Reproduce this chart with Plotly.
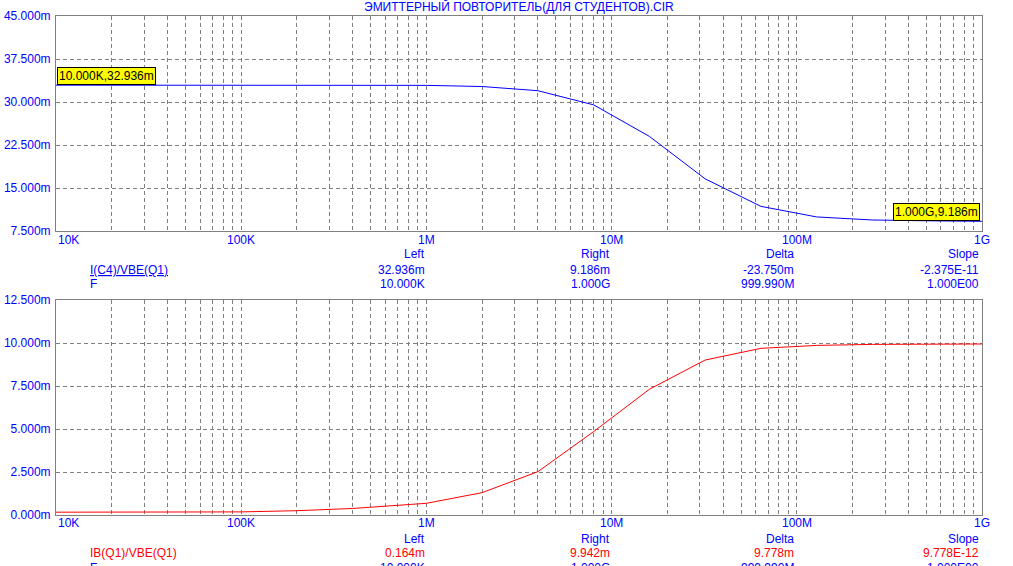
import plotly.graph_objects as go
import numpy as np

# ---------------- data ----------------
title_text = "ЭМИТТЕРНЫЙ ПОВТОРИТЕЛЬ(ДЛЯ СТУДЕНТОВ).CIR"
freq = [1e4, 1e5, 2e5, 4e5, 1e6, 2e6, 4e6, 8e6, 1.6e7, 3.2e7, 6.4e7, 1.28e8, 2.56e8, 5.12e8, 1e9]
ic4_vbe = [32.936, 32.935, 32.93, 32.92, 32.9, 32.7, 31.97, 29.5, 24.0, 16.6, 11.8, 9.95, 9.42, 9.28, 9.186]
ib_vbe = [0.164, 0.18, 0.25, 0.38, 0.68, 1.3, 2.52, 4.85, 7.31, 9.01, 9.69, 9.86, 9.92, 9.94, 9.942]

x_tick_vals = [1e4, 1e5, 1e6, 1e7, 1e8, 1e9]
x_tick_text = ["10K", "100K", "1M", "10M", "100M", "1G"]
top_y_vals = [7.5, 15.0, 22.5, 30.0, 37.5, 45.0]
top_y_text = ["7.500m", "15.000m", "22.500m", "30.000m", "37.500m", "45.000m"]
bot_y_vals = [0.0, 2.5, 5.0, 7.5, 10.0, 12.5]
bot_y_text = ["0.000m", "2.500m", "5.000m", "7.500m", "10.000m", "12.500m"]

table_headers = ["Left", "Right", "Delta", "Slope"]
top_row1_name = "I(C4)/VBE(Q1)"
top_row1 = ["32.936m", "9.186m", "-23.750m", "-2.375E-11"]
top_row2_name = "F"
top_row2 = ["10.000K", "1.000G", "999.990M", "1.000E00"]
bot_row1_name = "IB(Q1)/VBE(Q1)"
bot_row1 = ["0.164m", "9.942m", "9.778m", "9.778E-12"]
bot_row2_name = "F"
bot_row2 = ["10.000K", "1.000G", "999.990M", "1.000E00"]

cursor_top_left = "10.000K,32.936m"
cursor_top_right = "1.000G,9.186m"

# ---------------- layout helpers ----------------
W, H = 1013, 566
PX_L, PX_R = 56, 982
TOP_T, TOP_B = 16, 231
BOT_T, BOT_B = 300, 515
FONT = "Liberation Sans, Arial, sans-serif"
BLUE = "#0000FF"
RED = "#FF0000"
GRID = "#808080"


def px(x):
    return x / W


def py(y):
    return 1 - y / H


grid_vals = []
for d in range(4, 9):
    for m in range(1, 10):
        grid_vals.append(m * 10 ** d)
grid_vals.append(1e9)

fig = go.Figure()
fig.add_trace(go.Scatter(x=freq, y=ic4_vbe, mode="lines", line=dict(color="#0000FF", width=1),
                         xaxis="x", yaxis="y", showlegend=False, hoverinfo="skip"))
fig.add_trace(go.Scatter(x=freq, y=ib_vbe, mode="lines", line=dict(color=RED, width=1),
                         xaxis="x2", yaxis="y2", showlegend=False, hoverinfo="skip"))

xcommon = dict(type="log", range=[4, 9], tickvals=grid_vals, showticklabels=False,
               showgrid=True, gridcolor=GRID, griddash="4px,3px", gridwidth=1,
               showline=True, linecolor=GRID, linewidth=1, mirror=True, automargin=False,
               zeroline=False, ticks="", domain=[px(PX_L), px(PX_R)])
ycommon = dict(showgrid=True, gridcolor=GRID, griddash="4px,3px", gridwidth=1,
               showline=True, linecolor=GRID, linewidth=1, mirror=True, automargin=False,
               zeroline=False, ticks="", ticklabelstandoff=2,
               tickfont=dict(family=FONT, size=12, color=BLUE))

fig.update_layout(
    width=W, height=H, margin=dict(l=0, r=0, t=0, b=0, autoexpand=False),
    paper_bgcolor="white", plot_bgcolor="white",
    xaxis=dict(**xcommon, anchor="y"),
    yaxis=dict(**ycommon, range=[7.5, 45], tickvals=top_y_vals, ticktext=top_y_text,
               domain=[py(TOP_B), py(TOP_T)], anchor="x"),
    xaxis2=dict(**xcommon, anchor="y2"),
    yaxis2=dict(**ycommon, range=[0, 12.5], tickvals=bot_y_vals, ticktext=bot_y_text,
                domain=[py(BOT_B), py(BOT_T)], anchor="x2"),
    font=dict(family=FONT, size=12, color=BLUE),
)

ann = []


def text(x, y, s, xanchor="center", color=BLUE, underline=False):
    if underline:
        s = "<u>" + s + "</u>"
    ann.append(dict(x=px(x), y=py(y), xref="paper", yref="paper", text=s, showarrow=False,
                    xanchor=xanchor, yanchor="middle", font=dict(family=FONT, size=12, color=color)))


# title
text(519, 7, title_text)

# x tick labels (both plots)
for ylab in (240, 523):
    for i, (v, t) in enumerate(zip(x_tick_vals, x_tick_text)):
        xpix = PX_L + (np.log10(v) - 4) / 5 * (PX_R - PX_L)
        if i == 0:
            text(xpix, ylab, t, xanchor="left")
        else:
            text(xpix, ylab, t)

# tables
col_right = [427, 612, 796, 981]
for (hy, r1y, r2y, n1, v1, n2, v2, c1, ul) in [
    (254, 270, 284, top_row1_name, top_row1, top_row2_name, top_row2, BLUE, True),
    (539, 553, 568, bot_row1_name, bot_row1, bot_row2_name, bot_row2, RED, False),
]:
    for xr, h in zip(col_right, table_headers):
        text(xr, hy, h, xanchor="right")
    text(88, r1y, n1, xanchor="left", color=c1, underline=ul)
    for xr, v in zip(col_right, v1):
        text(xr, r1y, v, xanchor="right", color=c1)
    text(88, r2y, n2, xanchor="left")
    for xr, v in zip(col_right, v2):
        text(xr, r2y, v, xanchor="right")

# cursor boxes
ann.append(dict(x=4, y=ic4_vbe[0], xref="x", yref="y", text=cursor_top_left, showarrow=False,
                xanchor="left", yanchor="bottom", bgcolor="#FFFF00", bordercolor="black",
                borderwidth=1, borderpad=1, xshift=1, font=dict(family=FONT, size=12, color="black")))
ann.append(dict(x=9, y=ic4_vbe[-1], xref="x", yref="y", text=cursor_top_right, showarrow=False,
                xanchor="right", yanchor="bottom", bgcolor="#FFFF00", bordercolor="black",
                borderwidth=1, borderpad=1, xshift=-2, font=dict(family=FONT, size=12, color="black")))

fig.update_layout(annotations=ann)

fig.write_html("out.html", config={"displayModeBar": False},
               post_script="document.body.style.margin='0';document.body.style.overflow='hidden';")
